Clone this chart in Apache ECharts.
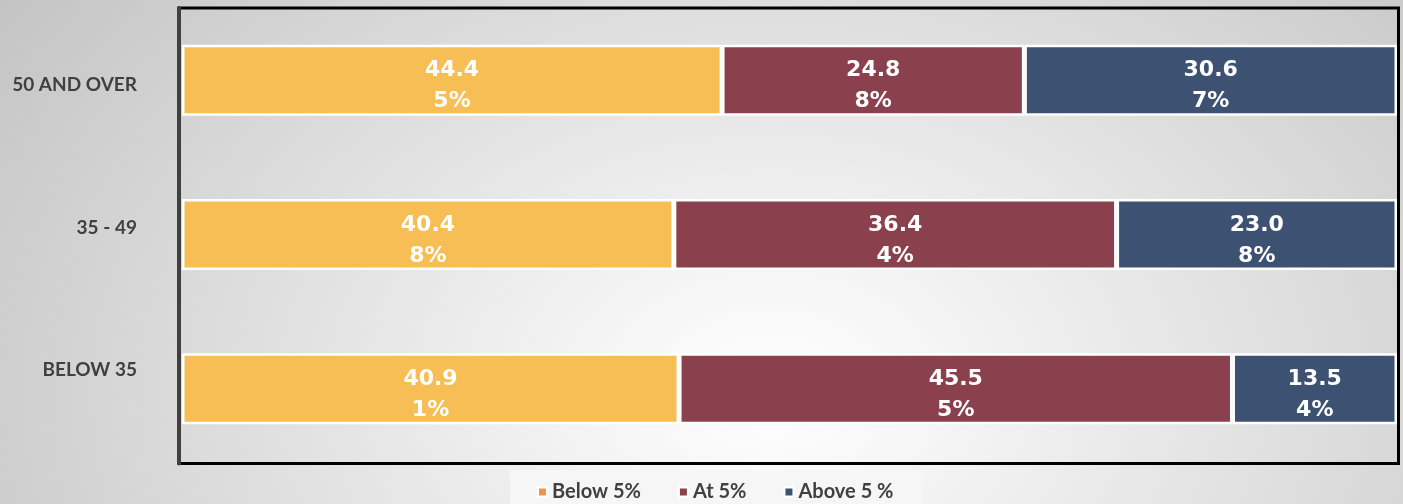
<!DOCTYPE html>
<html>
<head>
<meta charset="utf-8">
<script src="https://cdn.jsdelivr.net/npm/echarts@6/dist/echarts.min.js"></script>
<style>
html, body { margin: 0; padding: 0; }
body {
    width: 1403px;
    height: 504px;
    background: radial-gradient(ellipse 75% 150% at 55% 78%, #ffffff 0%, #f4f4f4 18%, #bdbdbd 100%);
}
#chart { width: 1403px; height: 504px; }
</style>
</head>
<body>
<div id="chart"></div>
<script>
const categories = ["50 AND OVER", "35 - 49", "BELOW 35"];
const seriesNames = ["Below 5%", "At 5%", "Above 5 %"];
const below5 = [44.45, 40.48, 40.91];
const at5 = [24.88, 36.44, 45.55];
const above5 = [30.67, 23.08, 13.54];

const barColors = ["#F6BE55", "#8B414D", "#3D5273"];
const legendColors = ["#EE9350", "#8B414D", "#3D5273"];

// the source chart wraps "44.45%" into two lines
function splitLabel(p) {
    let s = p.value.toFixed(2) + "%";
    return s.slice(0, 4) + "\n" + s.slice(4);
}

function barSeries(name, data, i) {
    return {
        name: name,
        type: "bar",
        stack: "total",
        xAxisIndex: 0,
        yAxisIndex: 0,
        barWidth: 71,
        data: data,
        itemStyle: {
            color: barColors[i],
            borderColor: "#ffffff",
            borderWidth: 2.5
        },
        label: {
            show: true,
            position: "inside",
            color: "#ffffff",
            fontFamily: "DejaVu Sans",
            fontWeight: "bold",
            fontSize: 22,
            lineHeight: 31,
            offset: [0, 6],
            formatter: splitLabel
        }
    };
}

let myChart = echarts.init(document.getElementById("chart"));

let option = {
    animation: false,
    backgroundColor: "transparent",
    legend: {
        data: seriesNames.map((n, i) => ({ name: n, itemStyle: { color: legendColors[i] } })),
        left: 510,
        top: 470,
        padding: [12, 28, 6, 27],
        backgroundColor: "#f6f6f6",
        itemWidth: 9,
        itemHeight: 9,
        itemGap: 37,
        icon: "rect",
        textStyle: {
            color: "#404040",
            fontFamily: "Lato",
            fontWeight: "bold",
            fontSize: 20
        }
    },
    grid: [
        { left: 182, right: 6, top: 3, height: 463, show: false },
        { left: 179, right: 4.5, top: 8, bottom: 40.5, show: true, borderColor: "#000000", borderWidth: 3, backgroundColor: "transparent" },
        { left: 181, right: 6, top: 13.75, height: 427.5, show: false }
    ],
    xAxis: [
        { type: "value", gridIndex: 0, min: 0, max: 100, show: false },
        { type: "value", gridIndex: 1, min: 0, max: 100, show: false },
        { type: "value", gridIndex: 2, min: 0, max: 100, show: false }
    ],
    yAxis: [
        { type: "category", gridIndex: 0, inverse: true, data: categories, show: false },
        {
            type: "category",
            gridIndex: 1,
            inverse: true,
            data: categories,
            axisLine: { show: true, lineStyle: { color: "#404040", width: 4 } },
            axisTick: { show: false },
            axisLabel: { show: false },
            splitLine: { show: false }
        },
        {
            type: "category",
            gridIndex: 2,
            inverse: true,
            data: categories,
            axisLine: { show: false },
            axisTick: { show: false },
            splitLine: { show: false },
            axisLabel: {
                margin: 44,
                color: "#404040",
                fontFamily: "Lato",
                fontWeight: "bold",
                fontSize: 19
            }
        }
    ],
    series: [
        barSeries(seriesNames[0], below5, 0),
        barSeries(seriesNames[1], at5, 1),
        barSeries(seriesNames[2], above5, 2)
    ]
};

myChart.setOption(option);
</script>
</body>
</html>
